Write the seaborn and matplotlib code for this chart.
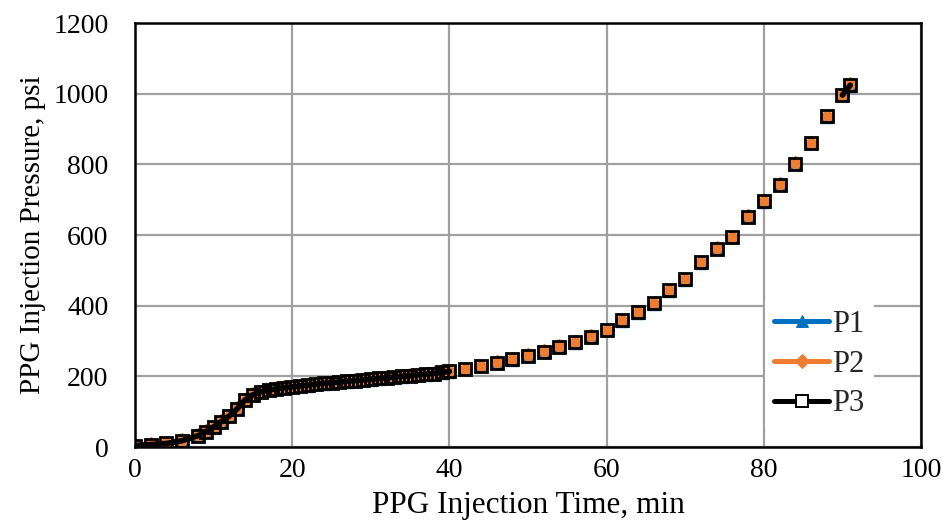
import numpy as np
import pandas as pd
import matplotlib
matplotlib.use("Agg")
import matplotlib.pyplot as plt
from matplotlib.lines import Line2D
import seaborn as sns

nan = np.nan

# Injection time (min)
time = [0, 2, 4, 6, 8, 9, 10, 11, 12, 13, 14, 15, 16, 17, 18, 19, 20,
        21, 22, 23, 24, 25, 26, 27, 28, 29, 30, 31, 32, 33, 34, 35, 36, 37, 38, 39, 40,
        41, 42, 43, 44, 45, 46, 47, 48, 49, 50, 51, 52, 53, 54, 55, 56, 57, 58, 59, 60,
        61, 62, 63, 64, 65, 66, 67, 68, 69, 70, 71, 72, 73, 74, 75, 76, 77, 78, 79, 80,
        81, 82, 83, 84, 85, 86, 87, 88, 89, 90, 91]

p3 = [4, 7, 10, 18, 32, 43, 57, 72, 88, 108, 133, 148, 156, 161, 165, 168, 170,
      173, 175, 178, 180, 182, 184, 186, 188, 190, 192, 194, 196, 198, 200, 202, 204, 206, 208, 211, 214,
      nan, 221, nan, 229, nan, 239, nan, 248, nan, 258, nan, 270, nan, 284, nan, 296, nan, 312, nan, 331,
      nan, 359, nan, 381, nan, 407, nan, 443, nan, 475, nan, 523, nan, 561, nan, 594, nan, 652, nan, 695,
      nan, 742, nan, 802, nan, 860, nan, 936, nan, 996, 1024]

p1 = [3, 6, 9, 17, 31, 42, 56, 71, 87, 107, 132, 147, 155, 160, 164, 167, 169,
      172, 174, 177, 179, 181, 183, 185, 187, 189, 191, 193, 195, 197, 199, 201, 203, 205, 207, 210, 213,
      nan, 220, nan, 228, nan, 238, nan, 247, nan, 257, nan, 269, nan, 283, nan, 295, nan, 311, nan, 330,
      nan, 358, nan, 380, nan, 406, nan, 442, nan, 474, nan, 522, nan, 560, nan, 593, nan, 651, nan, 694,
      nan, 741, nan, 801, nan, 859, nan, 935, nan, 995, 1022]

p2 = [5, 8, 11, 19, 33, 44, 58, 73, 89, 109, 134, 149, 157, 162, 166, 169, 171,
      174, 176, 179, 181, 183, 185, 187, 189, 191, 193, 195, 197, 199, 201, 203, 205, 207, 209, 212, 215,
      nan, 222, nan, 230, nan, 240, nan, 249, nan, 259, nan, 271, nan, 285, nan, 297, nan, 313, nan, 332,
      nan, 360, nan, 382, nan, 408, nan, 444, nan, 476, nan, 524, nan, 562, nan, 595, nan, 653, nan, 696,
      nan, 743, nan, 803, nan, 861, nan, 937, nan, 997, 1027]

series_names = ["P1", "P2", "P3"]
x_ticks = [0, 20, 40, 60, 80, 100]
y_ticks = [0, 200, 400, 600, 800, 1000, 1200]

sns.set_theme(style="white")
plt.rcParams["font.family"] = ["Liberation Serif", "DejaVu Serif"]

fig = plt.figure(figsize=(9.46, 5.23), dpi=100)
ax = fig.add_axes([0.1427, 0.1453, 0.8309, 0.8107])

styles = {
    "P1": dict(color="#0070C0", marker="^", ms=9.0, mfc="#0070C0", mec="#0070C0", mew=1.0),
    "P2": dict(color="#ED7D31", marker="D", ms=7.5, mfc="#ED7D31", mec="#ED7D31", mew=1.0),
    "P3": dict(color="black", marker="s", ms=8.0, mfc="none", mec="black", mew=2.0),
}

for name, vals in zip(series_names, [p1, p2, p3]):
    df = pd.DataFrame({"time": time, "p": vals})
    df["seg"] = df["p"].isna().cumsum()
    df = df.dropna()
    st = styles[name]
    sns.lineplot(data=df, x="time", y="p", units="seg", estimator=None, sort=False,
                 ax=ax, color=st["color"], linewidth=4.0, marker=st["marker"],
                 markersize=st["ms"], markerfacecolor=st["mfc"],
                 markeredgecolor=st["mec"], markeredgewidth=st["mew"], legend=False)

ax.set_xlim(0, 100)
ax.set_ylim(0, 1200)
ax.set_xticks(x_ticks)
ax.set_yticks(y_ticks)
ax.grid(True, color="#a0a0a0", linewidth=1.6)
ax.set_axisbelow(True)
for sp in ax.spines.values():
    sp.set_color("black")
    sp.set_linewidth(1.8)
    sp.set_visible(True)

ax.tick_params(axis="both", length=0, labelsize=20, colors="black")
ax.tick_params(axis="x", pad=8)
ax.tick_params(axis="y", pad=19)
ax.set_xlabel("PPG Injection Time, min", fontsize=22.5, color="black", labelpad=6)
ax.set_ylabel("PPG Injection Pressure, psi", fontsize=21, color="black", labelpad=5)

handles = []
for name in series_names:
    st = styles[name]
    handles.append(Line2D([0], [0], color=st["color"], linewidth=3.6, marker=st["marker"],
                          markersize=st["ms"], markerfacecolor=("white" if name == "P3" else st["mfc"]),
                          markeredgecolor=st["mec"], markeredgewidth=st["mew"] * 0.7))
leg = ax.legend(handles, series_names, loc="upper left", bbox_to_anchor=(0.8015, 0.345),
                fontsize=22, frameon=True, handlelength=1.8, handletextpad=0.1,
                labelspacing=0.35, borderpad=0.3, borderaxespad=0.0)
leg.get_frame().set_facecolor("white")
leg.get_frame().set_edgecolor("none")
leg.get_frame().set_alpha(1.0)
leg.get_frame().set_boxstyle("square", pad=0.0)

fig.savefig("out.png", dpi=100, facecolor="white")
